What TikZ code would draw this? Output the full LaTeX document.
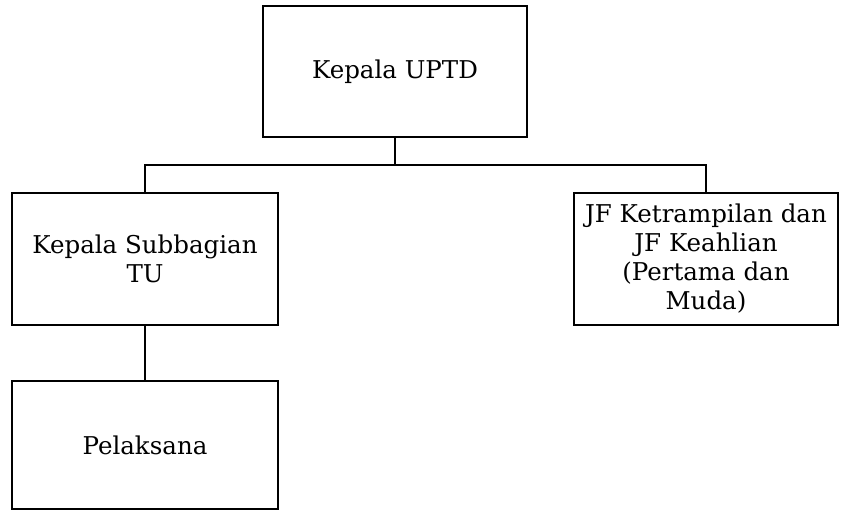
\documentclass[tikz,border=0pt]{standalone}
\usepackage{fontspec}
\setmainfont{DejaVu Serif}
\usepackage{tikz}

\begin{document}
\begin{tikzpicture}[x=1pt, y=-1pt, line width=2pt]
\tikzstyle{kotak}=[draw, rectangle, align=center, inner sep=0pt,
                   font=\fontsize{24.5}{29}\selectfont]
% bidang gambar sama dengan ukuran aslinya
\useasboundingbox (0,0) rectangle (842,512);

\node[kotak, minimum width=264pt, minimum height=131pt] (uptd) at (395,71.5) {Kepala UPTD};
\node[kotak, minimum width=266pt, minimum height=132pt] (subbag) at (145,259) {Kepala Subbagian\\TU};
\node[kotak, minimum width=264pt, minimum height=132pt] (jf) at (706,259) {JF Ketrampilan dan\\JF Keahlian\\(Pertama dan\\Muda)};
\node[kotak, minimum width=266pt, minimum height=128pt] (pelaksana) at (145,445) {Pelaksana};

\coordinate (cabang) at (395,165);

\draw (uptd.south) -- (cabang);
\draw (subbag.north) |- (cabang) -| (jf.north);
\draw (subbag.south) -- (pelaksana.north);
\end{tikzpicture}
\end{document}
